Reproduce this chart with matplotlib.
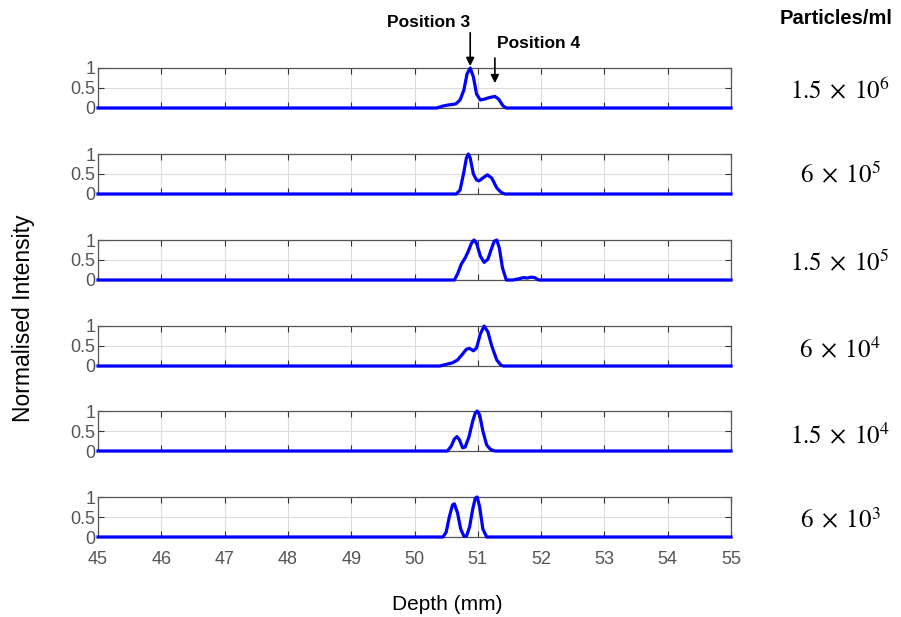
import numpy as np
import matplotlib.pyplot as plt

plt.rcParams['font.family'] = ['Liberation Sans', 'DejaVu Sans']
plt.rcParams['mathtext.fontset'] = 'stix'

# concentration labels (particles/ml), top to bottom
conc_labels = [r'$1.5\;\times\;10^{6}$', r'$6\;\times\;10^{5}$', r'$1.5\;\times\;10^{5}$',
               r'$6\;\times\;10^{4}$', r'$1.5\;\times\;10^{4}$', r'$6\;\times\;10^{3}$']

# depth (mm) and normalised intensity
d1 = [45, 50.35, 50.45, 50.55, 50.65, 50.72, 50.78, 50.83, 50.88, 50.93, 50.98, 51.04, 51.1, 51.18, 51.27, 51.33, 51.4, 51.45, 55]
i1 = [0, 0, 0.05, 0.08, 0.1, 0.2, 0.45, 0.85, 1.0, 0.78, 0.35, 0.2, 0.22, 0.26, 0.29, 0.22, 0.05, 0, 0]

d2 = [45, 50.66, 50.72, 50.78, 50.82, 50.85, 50.88, 50.93, 50.98, 51.02, 51.08, 51.15, 51.22, 51.3, 51.37, 51.43, 55]
i2 = [0, 0, 0.1, 0.55, 0.9, 1.0, 0.9, 0.5, 0.35, 0.33, 0.4, 0.48, 0.4, 0.15, 0.04, 0, 0]

d3 = [45, 50.63, 50.68, 50.74, 50.8, 50.85, 50.9, 50.94, 50.98, 51.04, 51.1, 51.16, 51.22, 51.26, 51.3,
      51.34, 51.39, 51.45, 51.55, 51.65, 51.72, 51.78, 51.84, 51.9, 51.96, 55]
i3 = [0, 0, 0.15, 0.4, 0.55, 0.72, 0.92, 1.0, 0.92, 0.6, 0.44, 0.52, 0.8, 0.97, 1.0,
      0.8, 0.3, 0, 0, 0.03, 0.06, 0.05, 0.07, 0.06, 0, 0]

d4 = [45, 50.4, 50.5, 50.6, 50.68, 50.76, 50.82, 50.87, 50.93, 50.98, 51.04, 51.1, 51.16, 51.22, 51.3, 51.36, 51.4, 55]
i4 = [0, 0, 0.04, 0.08, 0.15, 0.3, 0.42, 0.44, 0.38, 0.45, 0.8, 1.0, 0.85, 0.5, 0.15, 0.03, 0, 0]

d5 = [45, 50.52, 50.58, 50.63, 50.67, 50.71, 50.76, 50.8, 50.86, 50.92, 50.96, 50.99, 51.03, 51.08, 51.14, 51.2, 51.27, 55]
i5 = [0, 0, 0.12, 0.3, 0.36, 0.28, 0.08, 0.1, 0.35, 0.75, 0.95, 1.0, 0.9, 0.5, 0.15, 0.04, 0, 0]

d6 = [45, 50.45, 50.5, 50.55, 50.6, 50.63, 50.68, 50.73, 50.78, 50.82, 50.87, 50.92, 50.96, 50.99, 51.03, 51.08, 51.14, 55]
i6 = [0, 0, 0.12, 0.5, 0.8, 0.83, 0.6, 0.2, 0.02, 0.02, 0.25, 0.7, 0.97, 1.0, 0.75, 0.2, 0, 0]

depths = [d1, d2, d3, d4, d5, d6]
intens = [i1, i2, i3, i4, i5, i6]

W, H = 901, 617
fig = plt.figure(figsize=(W / 100, H / 100), dpi=100)

left, right = 98, 731
tops = [68, 154, 240, 326, 411, 497]
label_y = [90, 174, 262, 349, 435, 521]
ph = 40
tick_grey = '#555555'

axes = []
for k in range(6):
    ax = fig.add_axes([left / W, 1 - (tops[k] + ph) / H, (right - left) / W, ph / H])
    ax.plot(depths[k], intens[k], color='#0000ff', lw=2.3, clip_on=False, zorder=3)
    ax.set_xlim(45, 55)
    ax.set_ylim(0, 1)
    ax.set_xticks(np.arange(45, 56, 1))
    ax.set_yticks([0, 0.5, 1])
    ax.set_yticklabels(['0', '0.5', '1'])
    ax.grid(True, color='#dcdcdc', lw=0.8)
    ax.set_axisbelow(True)
    ax.tick_params(direction='in', length=4, width=0.8, colors='#333333',
                   top=True, right=True, labelcolor=tick_grey, labelsize=13, pad=2)
    if k < 5:
        ax.tick_params(labelbottom=False)
    else:
        ax.tick_params(axis='x', labelsize=13, pad=10)
    for s in ax.spines.values():
        s.set_color('#555555')
        s.set_linewidth(0.9)
    fig.text(840 / W, 1 - label_y[k] / H, conc_labels[k],
             ha='center', va='center', fontsize=18)
    axes.append(ax)

ax0 = axes[0]
ax0.annotate('Position 3', xy=(50.88, 1.05), xytext=(50.88, 1.95),
             ha='right', va='bottom', fontsize=12.5, fontweight='bold',
             annotation_clip=False,
             arrowprops=dict(arrowstyle='-|>', color='black', lw=1.2,
                             mutation_scale=12, shrinkA=0, shrinkB=0,
                             relpos=(1.0, 0.0)))
ax0.annotate('', xy=(51.27, 0.62), xytext=(51.27, 1.25),
             annotation_clip=False,
             arrowprops=dict(arrowstyle='-|>', color='black', lw=1.2,
                             mutation_scale=12, shrinkA=0, shrinkB=0))
ax0.text(51.3, 1.6, 'Position 4', ha='left', va='center', fontsize=12.5,
         fontweight='bold')

fig.text(836 / W, 1 - 18 / H, 'Particles/ml', ha='center', va='center',
         fontsize=14.5, fontweight='bold')
fig.text(24 / W, 1 - 318 / H, 'Normalised Intensity', rotation=90,
         ha='center', va='center', fontsize=16.5)
fig.text(447 / W, 1 - 604 / H, 'Depth (mm)', ha='center', va='center',
         fontsize=15)

fig.savefig('out.png', dpi=100)
